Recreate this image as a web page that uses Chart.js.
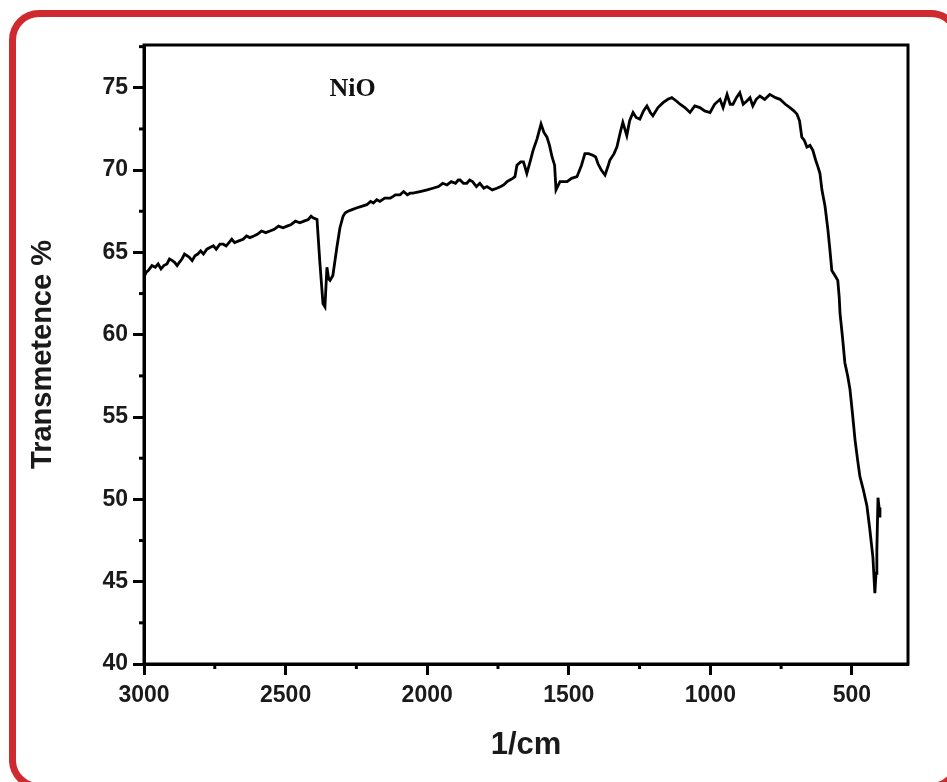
<!DOCTYPE html>
<html>
<head>
<meta charset="utf-8">
<script src="https://cdn.jsdelivr.net/npm/chart.js@4/dist/chart.umd.min.js"></script>
<style>
  html, body { margin: 0; padding: 0; background: #fff; overflow: hidden; }
  #wrap { position: relative; width: 947px; height: 782px; overflow: hidden; }
  #frame {
    position: absolute; left: 9px; top: 10px; width: 952px; height: 780px;
    box-sizing: border-box; border: 7px solid #cf2a30; border-radius: 30px;
  }
  #ftir { position: absolute; left: 0; top: 0; }
</style>
</head>
<body>
<div id="wrap">
  <div id="frame"></div>
  <canvas id="ftir" width="947" height="782"></canvas>
</div>
<script>
// wavenumber (1/cm) and transmittance (%)
const wavenumbers = [
  3000, 2992, 2985, 2972, 2960, 2950, 2940, 2930, 2919, 2910, 2900, 2892, 2883, 2875, 2866, 2857,
  2848, 2840, 2830, 2820, 2810, 2800, 2790, 2778, 2767, 2755, 2745, 2732, 2720, 2710, 2700, 2690,
  2680, 2665, 2650, 2638, 2626, 2612, 2600, 2585, 2570, 2555, 2540, 2525, 2509, 2495, 2480, 2465,
  2450, 2435, 2420, 2410, 2403, 2389, 2379, 2368, 2361, 2354, 2348, 2343, 2333, 2319, 2308, 2297,
  2290, 2280, 2265, 2250, 2232, 2213, 2200, 2190, 2178, 2167, 2150, 2130, 2112, 2096, 2083, 2070,
  2060, 2050, 2025, 2000, 1980, 1960, 1945, 1930, 1915, 1900, 1890, 1884, 1872, 1860, 1850, 1840,
  1826, 1814, 1800, 1789, 1770, 1754, 1740, 1730, 1718, 1708, 1698, 1690, 1683, 1670, 1660, 1648,
  1635, 1626, 1612, 1598, 1588, 1577, 1568, 1559, 1550, 1545, 1531, 1520, 1506, 1490, 1471, 1455,
  1443, 1430, 1415, 1405, 1397, 1385, 1372, 1362, 1355, 1340, 1330, 1318, 1309, 1295, 1285, 1273,
  1262, 1249, 1236, 1224, 1212, 1203, 1185, 1167, 1150, 1136, 1120, 1107, 1090, 1072, 1055, 1037,
  1020, 1001, 985, 966, 955, 941, 930, 920, 908, 896, 884, 871, 860, 850, 838, 825,
  808, 790, 770, 754, 735, 719, 705, 694, 685, 677, 668, 659, 648, 638, 628, 620,
  613, 606, 595, 585, 578, 571, 560, 550, 545, 542, 533, 525, 515, 507, 498, 489,
  480, 472, 460, 447, 437, 426, 419, 415, 412, 408, 404, 401
];
const transmittance = [
  63.5, 63.8, 63.9, 64.2, 64.1, 64.3, 64.0, 64.2, 64.3, 64.6, 64.5, 64.4, 64.2, 64.4, 64.6, 64.9,
  64.8, 64.7, 64.5, 64.8, 64.9, 65.1, 64.9, 65.2, 65.3, 65.4, 65.2, 65.5, 65.5, 65.4, 65.6, 65.8,
  65.6, 65.7, 65.8, 66.0, 65.9, 66.0, 66.1, 66.3, 66.2, 66.3, 66.4, 66.6, 66.5, 66.6, 66.7, 66.9,
  66.8, 66.9, 67.0, 67.2, 67.1, 67.0, 64.4, 61.9, 61.7, 64.1, 63.4, 63.3, 63.6, 65.3, 66.5, 67.2,
  67.4, 67.5, 67.6, 67.7, 67.8, 67.9, 68.1, 68.0, 68.2, 68.1, 68.3, 68.3, 68.5, 68.5, 68.7, 68.5,
  68.6, 68.6, 68.7, 68.8, 68.9, 69.0, 69.2, 69.1, 69.3, 69.2, 69.4, 69.4, 69.2, 69.2, 69.4, 69.3,
  69.0, 69.2, 68.9, 69.0, 68.8, 68.9, 69.0, 69.1, 69.3, 69.4, 69.5, 69.6, 70.3, 70.5, 70.5, 69.8,
  70.6, 71.2, 71.9, 72.8, 72.3, 72.0, 71.5, 70.8, 70.3, 68.8, 69.3, 69.3, 69.3, 69.5, 69.6, 70.3,
  71.0, 71.0, 70.9, 70.8, 70.4, 70.0, 69.7, 70.2, 70.6, 71.0, 71.4, 72.3, 72.9, 72.1, 73.0, 73.5,
  73.2, 73.1, 73.6, 73.9, 73.5, 73.3, 73.8, 74.1, 74.3, 74.4, 74.2, 74.0, 73.8, 73.5, 73.9, 73.8,
  73.6, 73.5, 74.0, 74.3, 73.8, 74.6, 74.0, 74.0, 74.4, 74.7, 74.0, 74.2, 74.4, 73.9, 74.3, 74.5,
  74.3, 74.6, 74.4, 74.3, 74.0, 73.8, 73.6, 73.4, 73.0, 72.0, 71.8, 71.4, 71.5, 71.2, 70.6, 70.2,
  69.8, 68.8, 67.8, 66.4, 65.2, 63.9, 63.6, 63.3, 62.3, 61.3, 59.8, 58.3, 57.5, 56.7, 55.2, 53.6,
  52.4, 51.4, 50.6, 49.6, 48.2, 46.5, 44.3, 45.5, 46.9, 50.1, 49.5, 48.9
];
const xTickLabels = [3000, 2500, 2000, 1500, 1000, 500];
const yTickLabels = [40, 45, 50, 55, 60, 65, 70, 75];
const sampleName = 'NiO';

const points = wavenumbers.map((w, i) => ({ x: w, y: transmittance[i] }));
const tickFont = { family: 'Liberation Sans, Arial, sans-serif', size: 23, weight: 'bold' };

// box outline, minor ticks and the sample label
const frameBox = {
  id: 'frameBox',
  afterDraw(chart) {
    const { ctx, chartArea: a, scales } = chart;
    ctx.save();
    ctx.strokeStyle = '#000';
    ctx.lineWidth = 3;
    ctx.strokeRect(a.left, a.top, a.right - a.left, a.bottom - a.top);
    for (let v = 42.5; v < 77.6; v += 5) {
      const y = scales.y.getPixelForValue(v);
      ctx.beginPath(); ctx.moveTo(a.left - 5, y); ctx.lineTo(a.left, y); ctx.stroke();
    }
    for (let v = 750; v < 3000; v += 500) {
      const x = scales.x.getPixelForValue(v);
      ctx.beginPath(); ctx.moveTo(x, a.bottom); ctx.lineTo(x, a.bottom + 5); ctx.stroke();
    }
    ctx.fillStyle = '#111';
    ctx.font = 'bold 26px "Liberation Serif", "Times New Roman", serif';
    ctx.textBaseline = 'middle';
    ctx.fillText(sampleName, scales.x.getPixelForValue(2345), scales.y.getPixelForValue(74.9));
    ctx.restore();
  }
};

new Chart(document.getElementById('ftir'), {
  type: 'line',
  data: {
    datasets: [{
      data: points,
      borderColor: '#000',
      borderWidth: 2.8,
      pointRadius: 0,
      tension: 0,
      fill: false
    }]
  },
  options: {
    responsive: false,
    animation: false,
    events: [],
    layout: { padding: { left: 0, top: 45, right: 39, bottom: 18 } },
    plugins: { legend: { display: false }, tooltip: { enabled: false } },
    scales: {
      x: {
        type: 'linear',
        reverse: true,
        min: 302,
        max: 3000,
        afterFit: (s) => { s.height = 100; },
        border: { display: true, color: '#000', width: 3 },
        grid: { drawOnChartArea: false, drawTicks: true, tickLength: 11, tickWidth: 3, tickColor: '#000' },
        afterBuildTicks: (s) => { s.ticks = xTickLabels.map(v => ({ value: v })); },
        ticks: { color: '#1a1a1a', font: tickFont, padding: 7, maxRotation: 0, callback: (v) => String(v) },
        title: {
          display: true, text: '1/cm', color: '#1a1a1a',
          font: { family: 'Liberation Sans, Arial, sans-serif', size: 31, weight: 'bold' },
          padding: { top: 0, bottom: 0 }
        }
      },
      y: {
        type: 'linear',
        min: 40,
        max: 77.6,
        afterFit: (s) => { s.width = 144; },
        border: { display: true, color: '#000', width: 3 },
        grid: { drawOnChartArea: false, drawTicks: true, tickLength: 11, tickWidth: 3, tickColor: '#000' },
        afterBuildTicks: (s) => { s.ticks = yTickLabels.map(v => ({ value: v })); },
        ticks: { color: '#1a1a1a', font: tickFont, padding: 5, callback: (v) => String(v) },
        title: {
          display: true, text: 'Transmetence %', color: '#1a1a1a',
          font: { family: 'Liberation Sans, Arial, sans-serif', size: 29, weight: 'bold' },
          padding: { top: 26, bottom: 0 }
        }
      }
    }
  },
  plugins: [frameBox]
});
</script>
</body>
</html>
